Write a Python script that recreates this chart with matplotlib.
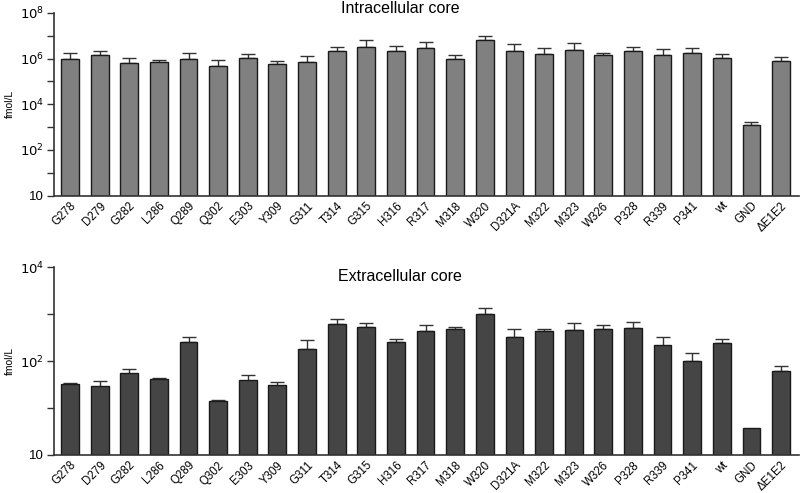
import matplotlib.pyplot as plt
import numpy as np

plt.rcParams['font.family'] = ['Liberation Sans', 'DejaVu Sans']

labels = ['G278', 'D279', 'G282', 'L286', 'Q289', 'Q302', 'E303', 'Y309', 'G311',
          'T314', 'G315', 'H316', 'R317', 'M318', 'W320', 'D321A', 'M322', 'M323',
          'W326', 'P328', 'R339', 'P341', 'wt', 'GND', '\u0394E1E2']

# log10 of bar heights and error-bar tops
intra_log = [6.00, 6.14, 5.79, 5.83, 5.98, 5.66, 6.04, 5.78, 5.84,
             6.32, 6.51, 6.31, 6.45, 6.00, 6.79, 6.35, 6.22, 6.39,
             6.17, 6.35, 6.16, 6.24, 6.03, 3.09, 5.91]
intra_err_log = [6.26, 6.33, 6.03, 5.94, 6.24, 5.93, 6.20, 5.91, 6.10,
                 6.51, 6.83, 6.55, 6.71, 6.17, 6.99, 6.64, 6.46, 6.68,
                 6.24, 6.51, 6.41, 6.48, 6.19, 3.22, 6.06]

extra_log = [1.50, 1.45, 1.73, 1.60, 2.40, 1.12, 1.58, 1.47, 2.26,
             2.79, 2.73, 2.40, 2.63, 2.68, 3.00, 2.51, 2.63, 2.67,
             2.68, 2.71, 2.33, 2.00, 2.38, 0.45, 1.79]
extra_err_log = [1.53, 1.58, 1.84, 1.63, 2.52, 1.17, 1.70, 1.56, 2.44,
                 2.89, 2.82, 2.47, 2.76, 2.73, 3.14, 2.68, 2.69, 2.81,
                 2.76, 2.84, 2.51, 2.18, 2.47, 0.45, 1.90]

fig = plt.figure(figsize=(8, 4.93), dpi=100)
ax1 = fig.add_axes([0.0675, 0.603, 0.931, 0.371])
ax2 = fig.add_axes([0.0675, 0.0771, 0.931, 0.381])

x = np.arange(len(labels))


def draw(ax, vals_log, err_log, color, top_exp, title, title_y):
    vals = 10 ** np.array(vals_log)
    errs = 10 ** np.array(err_log) - vals
    ax.bar(x, vals, width=0.6, color=color, edgecolor='#1a1a1a', linewidth=1.0,
           bottom=1, zorder=2)
    ax.errorbar(x, vals, yerr=[np.zeros_like(errs), errs], fmt='none',
                ecolor='#333333', elinewidth=1.0, capsize=5, capthick=1.0, zorder=1)
    ax.set_yscale('log')
    ax.set_ylim(1, 10 ** top_exp)
    ax.set_xlim(-0.54, 24.6)
    major = [10 ** e for e in range(0, top_exp + 1, 2)]
    ax.set_yticks(major)
    ax.set_yticklabels(['10'] + [r'$10^{%d}$' % e for e in range(2, top_exp + 1, 2)])
    ax.set_yticks([10 ** e for e in range(1, top_exp, 2)], minor=True)
    ax.yaxis.set_minor_formatter(plt.NullFormatter())
    ax.tick_params(axis='y', which='both', length=5, width=1, color='#333333',
                   labelsize=9.5, pad=2)
    ax.set_xticks(x)
    ax.set_xticklabels(labels, rotation=45, ha='right', rotation_mode='anchor',
                       fontsize=8.3)
    ax.tick_params(axis='x', length=0, pad=3)
    for s in ['top', 'right']:
        ax.spines[s].set_visible(False)
    for s in ['left', 'bottom']:
        ax.spines[s].set_color('#333333')
        ax.spines[s].set_linewidth(1.2)
    ax.set_ylabel('fmol/L', fontsize=7.5)
    ax.yaxis.set_label_coords(-0.052, 0.5)
    fig.text(0.5, title_y, title, ha='center', va='center', fontsize=11.5)


draw(ax1, intra_log, intra_err_log, '#808080', 8, 'Intracellular core', 0.982)
draw(ax2, extra_log, extra_err_log, '#454545', 4, 'Extracellular core', 0.44)

fig.savefig('out.png', dpi=100)
